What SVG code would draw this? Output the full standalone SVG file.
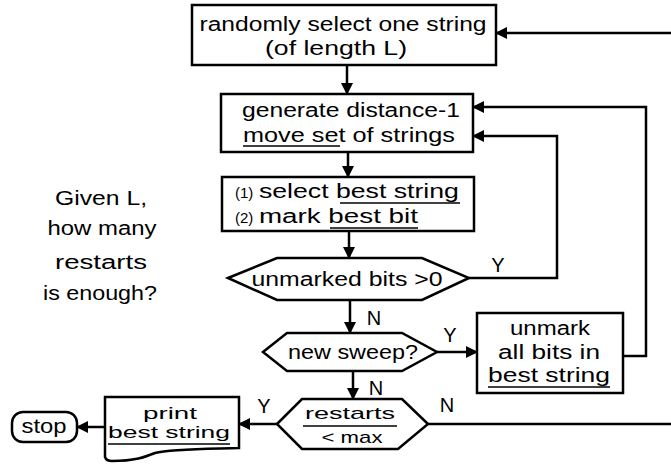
<svg xmlns="http://www.w3.org/2000/svg" width="671" height="464" viewBox="0 0 671 464">
  <style>
    .shape { fill: #ffffff; stroke: #000000; stroke-width: 2.5; }
    .wire { fill: none; stroke: #000000; stroke-width: 2.5; }
    .ul { stroke: #000000; stroke-width: 1.5; }
    text { font-family: "Liberation Sans", Arial, sans-serif; font-size: 20px; fill: #000000; text-anchor: middle; }
    .small { font-size: 15px; }
    .tight { font-size: 17px; }
  </style>
  <defs>
    <marker id="arrow" markerUnits="userSpaceOnUse" markerWidth="12" markerHeight="12" viewBox="0 0 12 12" refX="11" refY="6" orient="auto">
      <path d="M0,0 L12,6 L0,12 Z" fill="#000000"/>
    </marker>
  </defs>

  <rect width="671" height="464" fill="#ffffff"/>

  <!-- connectors -->
  <g id="connectors">
    <path class="wire" d="M347,65 V94" marker-end="url(#arrow)"/>
    <path class="wire" d="M348,152 V177" marker-end="url(#arrow)"/>
    <path class="wire" d="M349,231 V258" marker-end="url(#arrow)"/>
    <path class="wire" d="M469,278 H557 V136 H473" marker-end="url(#arrow)"/>
    <path class="wire" d="M623,356 H646 V107 H473" marker-end="url(#arrow)"/>
    <path class="wire" d="M350,300 V333" marker-end="url(#arrow)"/>
    <path class="wire" d="M437,352 H477" marker-end="url(#arrow)"/>
    <path class="wire" d="M353,371 V399" marker-end="url(#arrow)"/>
    <path class="wire" d="M277,424 H239" marker-end="url(#arrow)"/>
    <path class="wire" d="M105,427 H77" marker-end="url(#arrow)"/>
    <path class="wire" d="M428,424 H675 V33 H496" marker-end="url(#arrow)"/>
    <text x="498" y="272">Y</text>
    <text x="374" y="325">N</text>
    <text x="450" y="342">Y</text>
    <text x="376" y="395">N</text>
    <text x="447" y="412">N</text>
    <text x="264" y="413">Y</text>
  </g>

  <!-- process: pick a random start -->
  <g id="select-random">
    <rect class="shape" x="192" y="5" width="304" height="60"/>
    <text x="343" y="31" textLength="287" lengthAdjust="spacingAndGlyphs">randomly select one string</text>
    <text x="336" y="55" textLength="142" lengthAdjust="spacingAndGlyphs">(of length L)</text>
  </g>

  <!-- process: neighbourhood -->
  <g id="move-set">
    <rect class="shape" x="221" y="94" width="252" height="58"/>
    <text x="351" y="117" textLength="218" lengthAdjust="spacingAndGlyphs">generate distance-1</text>
    <text x="349" y="142" textLength="212" lengthAdjust="spacingAndGlyphs">move set of strings</text>
    <line class="ul" x1="243" y1="146" x2="340" y2="146"/>
  </g>

  <!-- process: select and mark -->
  <g id="select-mark">
    <rect class="shape" x="222" y="177" width="252" height="54"/>
    <text x="235" y="198" style="text-anchor:start"><tspan class="small">(1)</tspan> <tspan textLength="200" lengthAdjust="spacingAndGlyphs">select best string</tspan></text>
    <text x="235" y="223" style="text-anchor:start"><tspan class="small">(2)</tspan> <tspan textLength="159" lengthAdjust="spacingAndGlyphs">mark best bit</tspan></text>
    <line class="ul" x1="340" y1="203" x2="460" y2="203"/>
    <line class="ul" x1="330" y1="228" x2="418" y2="228"/>
  </g>

  <!-- decision: unmarked bits left -->
  <g id="unmarked-bits">
    <polygon class="shape" points="228,278 277,258 422,258 469,278 422,300 277,300"/>
    <text x="347" y="286" textLength="191" lengthAdjust="spacingAndGlyphs">unmarked bits &gt;0</text>
  </g>

  <!-- decision: another sweep -->
  <g id="new-sweep">
    <polygon class="shape" points="263,352 287,333 402,333 437,352 402,371 287,371"/>
    <text x="353" y="359" textLength="130" lengthAdjust="spacingAndGlyphs">new sweep?</text>
  </g>

  <!-- process: reset marks -->
  <g id="unmark">
    <rect class="shape" x="477" y="313" width="146" height="80"/>
    <text x="550" y="335" textLength="80" lengthAdjust="spacingAndGlyphs">unmark</text>
    <text x="549" y="359" textLength="102" lengthAdjust="spacingAndGlyphs">all bits in</text>
    <text x="549" y="382" textLength="122" lengthAdjust="spacingAndGlyphs">best string</text>
    <line class="ul" x1="488" y1="387" x2="610" y2="387"/>
  </g>

  <!-- decision: restart limit -->
  <g id="restarts">
    <polygon class="shape" points="277,424 302,399 402,399 428,424 398,449 302,449"/>
    <text class="tight" x="350" y="419" textLength="90" lengthAdjust="spacingAndGlyphs">restarts</text>
    <line class="ul" x1="303" y1="426" x2="397" y2="426"/>
    <text class="tight" x="352" y="443" textLength="61" lengthAdjust="spacingAndGlyphs">&lt; max</text>
  </g>

  <!-- output document -->
  <g id="print">
    <path class="shape" d="M105,397 H239 V448 C205,449 170,449 155,453 C145,457 135,461 112,461 C108,461 106,460 105,457 Z"/>
    <text class="tight" x="170" y="419" textLength="54" lengthAdjust="spacingAndGlyphs">print</text>
    <text class="tight" x="169" y="438" textLength="122" lengthAdjust="spacingAndGlyphs">best string</text>
    <line class="ul" x1="108" y1="444" x2="230" y2="444"/>
  </g>

  <!-- terminator -->
  <g id="stop">
    <rect class="shape" x="12" y="412" width="65" height="30" rx="11" ry="11"/>
    <text x="44" y="433" textLength="45" lengthAdjust="spacingAndGlyphs">stop</text>
  </g>

  <!-- side note -->
  <g id="note">
    <text x="101" y="205" textLength="92" lengthAdjust="spacingAndGlyphs">Given L,</text>
    <text x="102" y="235" textLength="109" lengthAdjust="spacingAndGlyphs">how many</text>
    <text x="101" y="269" textLength="92" lengthAdjust="spacingAndGlyphs">restarts</text>
    <text x="100" y="300" textLength="114" lengthAdjust="spacingAndGlyphs">is enough?</text>
  </g>
</svg>
